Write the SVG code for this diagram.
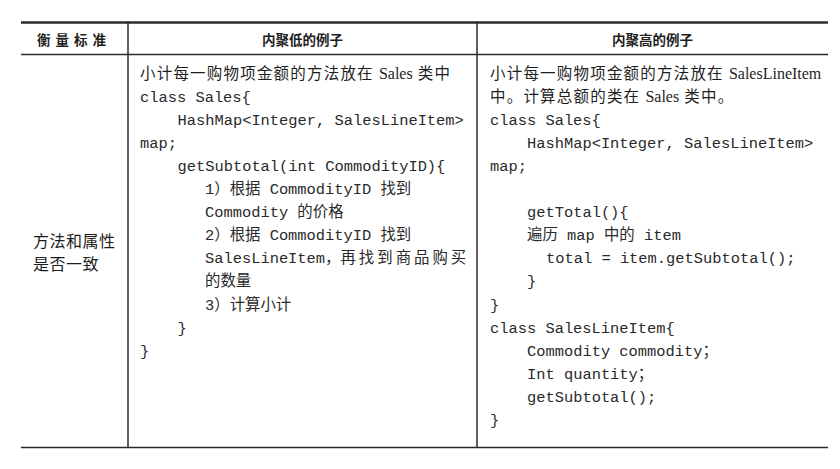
<svg xmlns="http://www.w3.org/2000/svg" width="840" height="469" viewBox="0 0 840 469">
<style>
.ln{stroke:#2b2b2b;stroke-width:1.5;fill:none}
.thick{stroke:#2b2b2b;stroke-width:2.6;fill:none}
.hd{font-family:"Noto Sans CJK SC","Noto Sans",sans-serif;font-weight:700;font-size:13.5px;fill:#1e1e1e}
.desc{font-family:"Liberation Serif","Noto Sans CJK SC",serif;font-size:15.5px;fill:#1e1e1e;letter-spacing:1.2px}
.lat{letter-spacing:0;font-size:16px}
.code{font-family:"Liberation Mono","Noto Sans CJK SC",monospace;font-size:15.4px;fill:#2a2a2a}
.lab{font-family:"Noto Sans CJK SC","Liberation Serif",serif;font-size:16px;fill:#1e1e1e;letter-spacing:0.5px}
</style>
<rect width="840" height="469" fill="#ffffff"/>
<g id="grid">
<line class="thick" x1="21" y1="22.5" x2="828" y2="22.5"/>
<line class="ln" x1="21" y1="54.5" x2="828" y2="54.5"/>
<line class="ln" x1="21" y1="447.5" x2="828" y2="447.5"/>
<line class="ln" x1="128" y1="22" x2="128" y2="448"/>
<line class="ln" x1="477" y1="22" x2="477" y2="448"/>
</g>
<g id="header">
<text class="hd" x="37" y="45" style="letter-spacing:5px">衡量标准</text>
<text class="hd" x="302.5" y="45" text-anchor="middle">内聚低的例子</text>
<text class="hd" x="652.5" y="45" text-anchor="middle">内聚高的例子</text>
</g>
<g id="criterion">
<text class="lab" x="33" y="247">方法和属性</text>
<text class="lab" x="33" y="269.5">是否一致</text>
</g>
<g id="low-cohesion">
<text class="desc" x="140" y="78.5">小计每一购物项金额的方法放在 <tspan class="lat">Sales</tspan> 类中</text>
<text class="code" x="140" y="101.6">class Sales{</text>
<text class="code" x="177.5" y="124.7">HashMap&lt;Integer, SalesLineItem&gt;</text>
<text class="code" x="140" y="147.8">map;</text>
<text class="code" x="177.5" y="170.9">getSubtotal(int CommodityID){</text>
<text class="code" x="205" y="194">1）根据 CommodityID 找到</text>
<text class="code" x="205" y="217.1">Commodity 的价格</text>
<text class="code" x="205" y="240.2">2）根据 CommodityID 找到</text>
<text class="code" x="205" y="263.3">SalesLineItem，<tspan style="letter-spacing:3px">再找到商品购买</tspan></text>
<text class="code" x="205" y="286.4">的数量</text>
<text class="code" x="205" y="309.5">3）计算小计</text>
<text class="code" x="177.5" y="332.6">}</text>
<text class="code" x="140" y="355.7">}</text>
</g>
<g id="high-cohesion">
<text class="desc" x="490" y="78.5" style="letter-spacing:1.2px">小计每一购物项金额的方法放在 <tspan class="lat">SalesLineItem</tspan></text>
<text class="desc" x="490" y="101.6">中。计算总额的类在 <tspan class="lat">Sales</tspan> 类中。</text>
<text class="code" x="490" y="124.7">class Sales{</text>
<text class="code" x="527" y="147.8">HashMap&lt;Integer, SalesLineItem&gt;</text>
<text class="code" x="490" y="170.9">map;</text>
<text class="code" x="527" y="217.1">getTotal(){</text>
<text class="code" x="527" y="240.2">遍历 map 中的 item</text>
<text class="code" x="546" y="263.3">total = item.getSubtotal();</text>
<text class="code" x="527" y="286.4">}</text>
<text class="code" x="490" y="309.5">}</text>
<text class="code" x="490" y="332.6">class SalesLineItem{</text>
<text class="code" x="527" y="355.7">Commodity commodity；</text>
<text class="code" x="527" y="378.8">Int quantity；</text>
<text class="code" x="527" y="401.9">getSubtotal();</text>
<text class="code" x="490" y="425">}</text>
</g>
</svg>
